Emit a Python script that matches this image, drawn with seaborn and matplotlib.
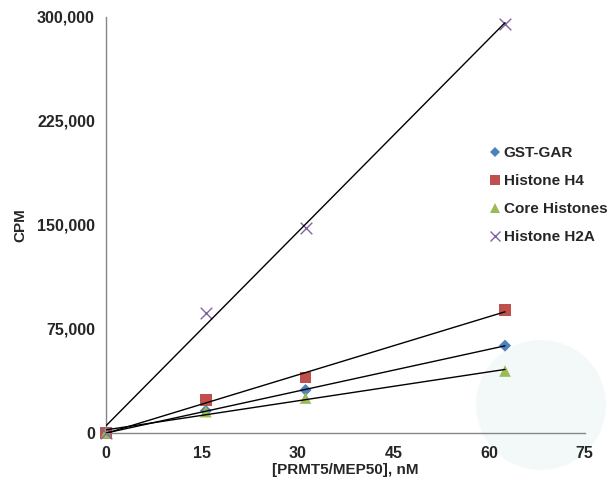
import numpy as np
import pandas as pd
import seaborn as sns
import matplotlib
matplotlib.use("Agg")
from matplotlib import pyplot as plt
from matplotlib import font_manager
from matplotlib.patches import Ellipse
from matplotlib.ticker import FuncFormatter

# data
conc = [0, 15.625, 31.25, 62.5]
gst_gar = [0, 16000, 31000, 63000]
histone_h4 = [0, 23800, 39900, 88700]
core_histones = [0, 15400, 25200, 44700]
histone_h2a = [0, 86750, 147800, 295000]

series_names = ["GST-GAR", "Histone H4", "Core Histones", "Histone H2A"]
series_values = [gst_gar, histone_h4, core_histones, histone_h2a]
colors = ["#4F81BD", "#C0504D", "#9BBB59", "#8064A2"]
markers = ["D", "s", "^", "x"]
sizes = [38, 70, 70, 70]

x_ticks = [0, 15, 30, 45, 60, 75]
y_ticks = [0, 75000, 150000, 225000, 300000]

sns.set_style("white")

# pick a family that really has a bold face
family = "DejaVu Sans"
for fam in ["Liberation Sans", "Arimo", "Roboto", "Noto Sans", "Open Sans"]:
    path = font_manager.findfont(font_manager.FontProperties(family=fam, weight="bold"),
                                 fallback_to_default=False)
    if "bold" in path.lower():
        family = fam
        break
plt.rcParams["font.family"] = [family, "DejaVu Sans"]
plt.rcParams["font.weight"] = "bold"

fig = plt.figure(figsize=(6.13, 4.83), dpi=100)
ax = fig.add_axes([0.173, 0.1035, 0.781, 0.8615])
ax.set_facecolor("none")

# faint circle in the lower right
fig.patches.append(Ellipse((541 / 613, 1 - 405 / 483), 130 / 613, 130 / 483,
                           transform=fig.transFigure, facecolor="#F3F9F9",
                           edgecolor="none", zorder=-10))

# linear trendlines
for vals in series_values:
    slope, intercept = np.polyfit(conc, vals, 1)
    xs = np.array([conc[0], conc[-1]])
    ax.plot(xs, slope * xs + intercept, color="black", linewidth=1.0, zorder=3)

handles = []
for name, vals, c, m, s in zip(series_names, series_values, colors, markers, sizes):
    df = pd.DataFrame({"conc": conc, "cpm": vals})
    if m == "x":
        sns.scatterplot(data=df, x="conc", y="cpm", ax=ax, marker=m, color=c,
                        s=s, linewidth=1.0, zorder=2, legend=False, clip_on=False)
    else:
        sns.scatterplot(data=df, x="conc", y="cpm", ax=ax, marker=m, color=c,
                        s=s, edgecolor="none", zorder=2, legend=False, clip_on=False)
    handles.append(plt.Line2D([], [], linestyle="none", marker=m, color=c,
                              markersize=np.sqrt(s) * 0.9, markeredgewidth=1.0 if m == "x" else 0))

ax.set_xlim(0, 75)
ax.set_ylim(0, 300000)
ax.set_xticks(x_ticks)
ax.set_yticks(y_ticks)
ax.yaxis.set_major_formatter(FuncFormatter(lambda v, p: f"{int(v):,}"))
ax.tick_params(axis="both", which="major", direction="out", length=4, width=1,
               color="#868686", labelsize=11.5)
ax.tick_params(axis="x", pad=5)
ax.tick_params(axis="y", pad=4)
for lbl in ax.get_xticklabels() + ax.get_yticklabels():
    lbl.set_fontweight("bold")

for side in ["top", "right"]:
    ax.spines[side].set_visible(False)
for side in ["left", "bottom"]:
    ax.spines[side].set_color("#868686")
    ax.spines[side].set_linewidth(1)

ax.set_xlabel("[PRMT5/MEP50], nM", fontsize=11, fontweight="bold", labelpad=2)
ax.set_ylabel("CPM", fontsize=11, fontweight="bold", labelpad=7)

leg = fig.legend(handles, series_names, loc="upper left",
                 bbox_to_anchor=(490 / 613, 1 - 146 / 483),
                 frameon=False, handlelength=0.7, handletextpad=0.2,
                 labelspacing=0.92, prop={"size": 11, "weight": "bold"},
                 borderaxespad=0, borderpad=0)

fig.savefig("out.png", dpi=100)
